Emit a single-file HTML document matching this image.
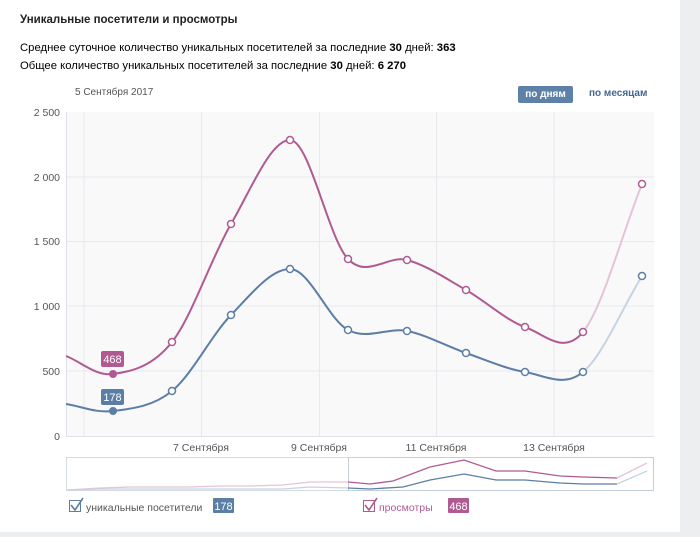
<!DOCTYPE html>
<html><head><meta charset="utf-8"><style>
body{margin:0;width:700px;height:537px;background:#fff;font-family:"Liberation Sans",sans-serif;position:relative;overflow:hidden;color:#000}
.t{position:absolute;white-space:nowrap}
</style></head><body>
<div style="position:absolute;left:680px;top:0;width:20px;height:537px;background:#edeef0"></div>
<div style="position:absolute;left:0;top:532px;width:680px;height:5px;background:#edeef0"></div>
<div class="t" style="left:20px;top:14px;font-size:11.5px;font-weight:bold;color:#222">Уникальные посетители и просмотры</div>
<div class="t" style="left:20px;top:42px;font-size:11.3px;color:#000">Среднее суточное количество уникальных посетителей за последние <b>30</b> дней: <b>363</b></div>
<div class="t" style="left:20px;top:60px;font-size:11.3px;color:#000">Общее количество уникальных посетителей за последние <b>30</b> дней: <b>6 270</b></div>
<div class="t" style="left:75px;top:87px;font-size:10px;color:#555">5 Сентября 2017</div>
<div class="t" style="left:518px;top:86px;width:55px;height:17px;background:#5e81a8;color:#fff;font-size:10px;font-weight:bold;text-align:center;line-height:17px;border-radius:2px">по дням</div>
<div class="t" style="left:589px;top:88px;font-size:10px;font-weight:bold;color:#45678f">по месяцам</div>
<svg width="700" height="537" style="position:absolute;left:0;top:0" font-family="Liberation Sans, sans-serif">
<rect x="66" y="112" width="588" height="324" fill="#f9f9fa"/>
<g stroke="#e7e9ef" stroke-width="1">
<line x1="66" y1="177" x2="654" y2="177"/><line x1="66" y1="241.5" x2="654" y2="241.5"/><line x1="66" y1="306" x2="654" y2="306"/><line x1="66" y1="371" x2="654" y2="371"/>
<line x1="84" y1="112" x2="84" y2="436"/><line x1="201.5" y1="112" x2="201.5" y2="436"/><line x1="319.5" y1="112" x2="319.5" y2="436"/><line x1="436.5" y1="112" x2="436.5" y2="436"/><line x1="554" y1="112" x2="554" y2="436"/>
</g>
<line x1="66.5" y1="112" x2="66.5" y2="436" stroke="#dfe2e8"/>
<line x1="66" y1="436.5" x2="654" y2="436.5" stroke="#dfe2e8"/>
<g font-size="10.5" fill="#555" text-anchor="end">
<text x="60" y="116">2 500</text><text x="60" y="181">2 000</text><text x="60" y="245">1 500</text><text x="60" y="310">1 000</text><text x="60" y="375">500</text><text x="60" y="440">0</text>
</g>
<g font-size="10.5" fill="#555" text-anchor="middle">
<text x="201" y="451">7 Сентября</text><text x="319" y="451">9 Сентября</text><text x="436" y="451">11 Сентября</text><text x="554" y="451">13 Сентября</text>
</g>
<path d="M66,356 C81.7,362 95.3,376.3 113,374 C130.7,371.7 152.3,367 172,342 C191.7,317 211.3,257.7 231,224 C250.7,190.3 270.5,140 290,140 C309.5,140 328.5,239 348,259 C367.5,279 387.3,254.8 407,260 C426.7,265.2 446.3,278.8 466,290 C485.7,301.2 505.5,320 525,327 C544.5,334 563.5,355.8 583,332" fill="none" stroke="#b05a92" stroke-width="2"/>
<path d="M583,332 C602.5,308.2 622.3,233 642,184" fill="none" stroke="#e5c3d8" stroke-width="2"/>
<path d="M66,404 C81.7,406.3 95.3,413.2 113,411 C130.7,408.8 152.3,407 172,391 C191.7,375 211.3,335.3 231,315 C250.7,294.7 270.5,269 290,269 C309.5,269 328.5,319.7 348,330 C367.5,340.3 387.3,327.2 407,331 C426.7,334.8 446.3,346.2 466,353 C485.7,359.8 505.5,368.8 525,372 C544.5,375.2 563.5,388 583,372" fill="none" stroke="#5b7ea6" stroke-width="2"/>
<path d="M583,372 C602.5,356 622.3,308 642,276" fill="none" stroke="#c6d3e2" stroke-width="2"/>
<g fill="#fff" stroke="#b05a92" stroke-width="1.5">
<circle cx="172" cy="342" r="3.5"/><circle cx="231" cy="224" r="3.5"/><circle cx="290" cy="140" r="3.5"/><circle cx="348" cy="259" r="3.5"/><circle cx="407" cy="260" r="3.5"/><circle cx="466" cy="290" r="3.5"/><circle cx="525" cy="327" r="3.5"/><circle cx="583" cy="332" r="3.5"/><circle cx="642" cy="184" r="3.5"/>
</g>
<g fill="#fff" stroke="#5b7ea6" stroke-width="1.5">
<circle cx="172" cy="391" r="3.5"/><circle cx="231" cy="315" r="3.5"/><circle cx="290" cy="269" r="3.5"/><circle cx="348" cy="330" r="3.5"/><circle cx="407" cy="331" r="3.5"/><circle cx="466" cy="353" r="3.5"/><circle cx="525" cy="372" r="3.5"/><circle cx="583" cy="372" r="3.5"/><circle cx="642" cy="276" r="3.5"/>
</g>
<circle cx="113" cy="374" r="4" fill="#b05a92"/><circle cx="113" cy="411" r="4" fill="#5b7ea6"/>
<rect x="101" y="351" width="23" height="16" rx="2" fill="#b05a92"/><text x="112.5" y="363" font-size="11" fill="#fff" text-anchor="middle">468</text>
<rect x="101" y="389" width="23" height="16" rx="2" fill="#5b7ea6"/><text x="112.5" y="401" font-size="11" fill="#fff" text-anchor="middle">178</text>
<rect x="66.5" y="457.5" width="587" height="33" fill="#fff" stroke="#d5dbe4"/>
<rect x="348.5" y="457.5" width="305" height="33" fill="none" stroke="#c5cedb"/>
<polyline points="67,490 100,488 130,487 160,487 190,487 220,486 250,486 283,485 310,482 348,482" fill="none" stroke="#e5c3d8" stroke-width="1.3"/>
<polyline points="67,490 100,489 130,489 160,489 190,489 220,489 250,489 283,489 310,487 348,488" fill="none" stroke="#c6d3e2" stroke-width="1.3"/>
<polyline points="348,482 370,484 393,481 430,467 464,460 496,471 525,471 560,476 583,477 617,478" fill="none" stroke="#b05a92" stroke-width="1.3"/>
<polyline points="348,488 370,489 403,487 430,480 464,474 496,480 525,480 560,483 583,484 617,484" fill="none" stroke="#5b7ea6" stroke-width="1.3"/>
<polyline points="617,478 647,463" fill="none" stroke="#e5c3d8" stroke-width="1.3"/>
<polyline points="617,484 647,471" fill="none" stroke="#c6d3e2" stroke-width="1.3"/>
<rect x="69.5" y="500.5" width="11" height="11" fill="#fff" stroke="#5b7ea6"/>
<path d="M71,505 L75,510 L83,498" fill="none" stroke="#5b7ea6" stroke-width="1.6"/>
<text x="86" y="511" font-size="10.5" fill="#555">уникальные посетители</text>
<rect x="213" y="498" width="21" height="15" rx="1" fill="#5b7ea6"/><text x="223.5" y="510" font-size="11" fill="#fff" text-anchor="middle">178</text>
<rect x="363.5" y="500.5" width="11" height="11" fill="#fff" stroke="#b05a92"/>
<path d="M365,505 L369,510 L377,498" fill="none" stroke="#b05a92" stroke-width="1.6"/>
<text x="379" y="511" font-size="10.5" fill="#b05a92">просмотры</text>
<rect x="448" y="498" width="21" height="15" rx="1" fill="#b05a92"/><text x="458.5" y="510" font-size="11" fill="#fff" text-anchor="middle">468</text>
</svg>
</body></html>
